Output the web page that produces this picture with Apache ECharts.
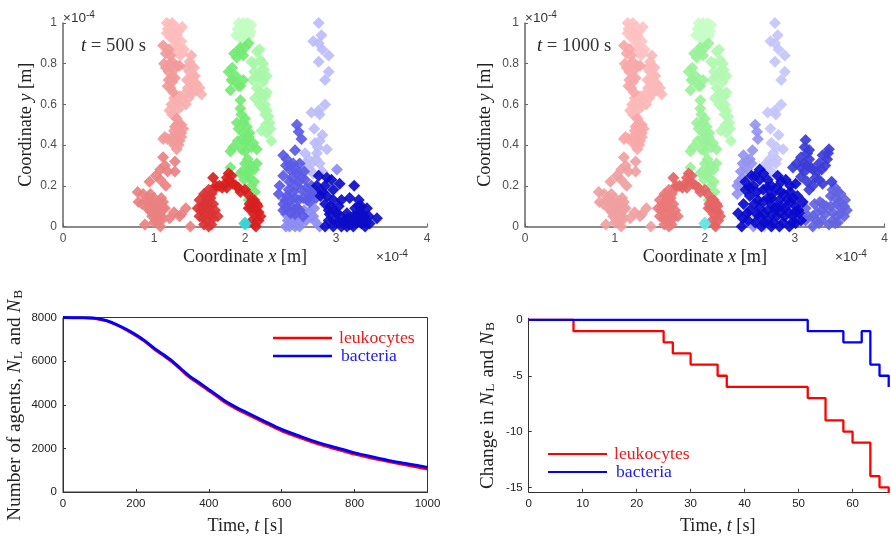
<!DOCTYPE html>
<html><head><meta charset="utf-8">
<style>html,body{margin:0;padding:0;background:#fff}#c{width:891px;height:537px}</style>
<script src="https://cdn.jsdelivr.net/npm/echarts@6/dist/echarts.min.js"></script>
</head><body><div id="c"></div>
<script>
// Scatter positions, x and y in units of 1e-4 m
const redTop=[[1.14,1],[1.2,1],[1.31,.98],[1.15,.97],[1.21,.95],[1.14,.95],[1.27,.96],[1.18,.93],[1.23,.92],[1.3,.91],[1.27,.88],[1.33,.87],[1.29,.84],[1.17,.99],[1.24,.98],[1.25,.94],[1.18,.96],[1.22,.89],[1.25,.86],[1.31,.85]];
const redPale=[[1.41,.84],[1.39,.81],[1.41,.79],[1.39,.76],[1.43,.74],[1.39,.72],[1.43,.71],[1.47,.7],[1.41,.69],[1.47,.67],[1.52,.65],[1.41,.65],[1.38,.63],[1.35,.6],[1.3,.59],[1.25,.63],[1.28,.64],[1.22,.63],[1.19,.6],[1.17,.57],[1.23,.54],[1.36,.78],[1.44,.78],[1.36,.72],[1.45,.74],[1.5,.68],[1.37,.68],[1.33,.65],[1.43,.67],[1.3,.62],[1.23,.6],[1.25,.57],[1.2,.55]];
const redMid=[[1.1,.89],[1.16,.87],[1.18,.84],[1.2,.81],[1.13,.78],[1.16,.76],[1.19,.73],[1.23,.73],[1.2,.71],[1.15,.69],[1.21,.66],[1.25,.79],[1.28,.79],[1.25,.53],[1.25,.5],[1.27,.48],[1.22,.47],[1.3,.46],[1.25,.45],[1.3,.44],[1.1,.43],[1.15,.43],[1.2,.42],[1.25,.42],[1.27,.4],[1.25,.38],[1.13,.85],[1.17,.8],[1.11,.8],[1.16,.72],[1.18,.68],[1.22,.77],[1.28,.5],[1.23,.49],[1.32,.48],[1.2,.44],[1.28,.42],[1.22,.4],[1.12,.44],[1.3,.5]];
const redLow=[[1.1,.34],[1.12,.3],[1.07,.28],[1.15,.27],[1.23,.32],[1.23,.27],[1.02,.25],[1.07,.23],[.95,.22],[1.13,.2],[.82,.17],[.88,.16],[.83,.12],[.87,.11],[.94,.14],[.96,.12],[.98,.1],[.93,.09],[.97,.07],[1.02,.09],[1.06,.12],[1.08,.14],[1.1,.12],[1.07,.09],[1.03,.06],[.98,.05],[1.05,.03],[1.07,0],[.9,.01],[1.17,.04],[1.22,.07],[1.28,.05],[1.3,.06],[1.35,.09],[1.4,0],[1,.11],[.92,.12],[.96,.16],[1,.14],[.95,.08],[1,.07],[1.02,.03],[1,.02],[1.06,.06],[1.08,.05],[1.1,.09],[1.12,.09],[1.08,.03]];
const redArchLeft=[[1.5,.13],[1.55,.16],[1.6,.18],[1.62,.14],[1.55,.11],[1.6,.1],[1.52,.08],[1.56,.06],[1.63,.07],[1.5,.05],[1.58,.03],[1.6,0],[1.55,.01],[1.65,.11],[1.7,.05],[1.65,.04],[1.58,.13],[1.57,.09],[1.53,.1],[1.62,.05],[1.57,.15],[1.6,.12],[1.67,.08],[1.63,.01],[1.54,.04],[1.48,.09],[1.63,.16],[1.66,.18]];
const redArchRight=[[1.65,.24],[1.75,.19],[1.68,.2],[1.78,.21],[1.82,.26],[1.83,.22],[1.87,.21],[1.9,.2],[1.95,.17],[2,.18],[2.05,.11],[2.1,.13],[2.13,.11],[2.07,.09],[2.12,.08],[2.17,.05],[2.1,.06],[2.15,.03],[2.12,0],[2.1,.01],[1.72,.2],[1.8,.24],[1.85,.25],[1.93,.19],[1.8,.19],[2.03,.16],[2.08,.13],[2.04,.09],[2.15,.07],[2.08,.03],[2.14,.1]];
const greenTop=[[1.93,1],[1.98,1],[2.03,1],[2.07,.99],[1.92,.97],[1.97,.96],[2.02,.96],[2.06,.96],[1.9,.94],[1.95,.93],[2,.93],[1.98,.91],[2,.99],[1.95,.98],[2.05,.94],[2.03,.93],[1.93,.95],[2,.96]];
const greenPale=[[2.16,.87],[2.07,.81],[2.2,.8],[2.21,.77],[2.13,.735],[2.2,.71],[2.13,.68],[2.22,.64],[2.11,.63],[2.16,.6],[2.24,.57],[2.22,.55],[2.27,.51],[2.18,.47],[2.29,.42],[2.24,.46],[2.1,.8],[2.16,.76],[2.08,.72],[2.17,.66],[2.13,.86],[2.17,.82],[2.24,.74],[2.1,.76],[2.18,.74],[2.24,.66],[2.18,.64],[2.2,.58],[2.26,.54],[2.23,.5],[2.28,.48],[2.22,.6]];
const greenMid=[[2.04,.9],[1.95,.88],[1.96,.86],[1.91,.83],[1.98,.84],[1.82,.76],[1.87,.72],[1.84,.67],[1.98,.72],[1.93,.69],[1.95,.62],[1.95,.58],[2,.53],[1.91,.51],[2.02,.49],[1.93,.48],[1.98,.46],[2.04,.44],[1.87,.39],[1.84,.37],[2,.41],[2.09,.41],[2.13,.38],[2,.37],[2,.31],[2.13,.31],[2.05,.28],[1.84,.29],[1.95,.26],[2.04,.245],[2.11,.17],[2.04,.13],[2.07,.2],[2.1,.28],[2,.88],[1.93,.86],[1.88,.85],[1.86,.78],[1.9,.74],[1.85,.72],[1.95,.69],[1.96,.55],[1.98,.51],[2.05,.46],[1.97,.43],[2.02,.42],[1.92,.42],[2.07,.39],[1.96,.38],[2.03,.33],[2.07,.3],[1.97,.27],[2.1,.22],[2.03,.26],[1.99,.23]];
const cyanPts=[[1.97,.015],[2,.015],[2.03,.015],[2,.03],[2,0]];

const bluePale500=[[2.81,1],[2.84,.94],[2.75,.91],[2.81,.9],[2.85,.87],[2.92,.84],[2.81,.81],[2.92,.76],[2.88,.72],[2.88,.6],[2.81,.57],[2.73,.56],[2.82,.55],[2.76,.48],[2.85,.45],[2.77,.41],[2.9,.38],[2.79,.36],[2.66,.36],[2.73,.31],[2.82,.31],[2.71,.28],[2.62,.27],[2.7,.33],[2.78,.33],[2.67,.31],[2.85,.27],[2.82,.42],[2.8,.39],[2.75,.26]];
const blueLight500=[[3.01,.28],[2.55,0],[2.6,.02],[2.52,.03],[2.45,.06],[2.67,.03],[2.76,.09],[2.82,0],[2.56,.05],[2.7,.07],[2.47,.03],[2.6,0],[2.75,.05],[2.49,0],[2.65,.08],[2.76,.03],[2.58,.09],[2.45,0]];
const blueMid500=[[2.57,.5],[2.59,.465],[2.62,.43],[2.55,.375],[2.42,.35],[2.46,.33],[2.53,.31],[2.6,.31],[2.49,.28],[2.57,.26],[2.42,.25],[2.38,.2],[2.37,.16],[2.49,.22],[2.59,.22],[2.66,.23],[2.73,.2],[2.62,.18],[2.53,.17],[2.46,.15],[2.68,.13],[2.59,.13],[2.42,.11],[2.51,.1],[2.42,.08],[2.6,.08],[2.5,.065],[2.45,.3],[2.5,.3],[2.56,.28],[2.65,.27],[2.52,.24],[2.62,.24],[2.56,.2],[2.68,.19],[2.48,.18],[2.44,.13],[2.5,.13],[2.55,.14],[2.64,.14],[2.57,.09],[2.46,.09],[2.55,.06],[2.64,.05],[2.75,.16],[2.71,.12],[2.78,.14],[2.8,.17],[2.7,.16]];
const blueDark500=[[2.81,.25],[2.9,.24],[2.95,.23],[3.04,.21],[3.2,.2],[2.79,.2],[2.88,.2],[2.97,.18],[3.15,.14],[2.97,.13],[3.06,.13],[3.25,.13],[3.28,.1],[3.34,.09],[3.21,.09],[2.92,.08],[3.01,.065],[3.12,.065],[3.19,.05],[3.28,.06],[3.36,.05],[3.45,.04],[3.37,.015],[3.28,.015],[3.19,0],[3.32,0],[2.88,0],[2.97,0],[3.06,0],[3.12,0],[2.92,.03],[3.03,.025],[3.1,.03],[3.25,.03],[2.85,.17],[2.9,.15],[2.83,.15],[2.94,.1],[2.98,.08],[2.88,.11],[2.93,.06],[3.03,.1],[2.98,.03],[3.05,.05],[3.08,.02],[3.15,.01],[3.22,.05],[3.23,.02],[3.3,.03],[3.27,.07],[3.31,.05],[3.33,.02],[3.13,.04],[3.18,.02],[3.25,.1]];

const bluePale1000=[[2.78,1],[2.81,.94],[2.73,.91],[2.78,.9],[2.82,.87],[2.89,.84],[2.78,.81],[2.89,.76],[2.85,.72],[2.85,.6],[2.78,.57],[2.7,.56],[2.79,.55],[2.73,.48],[2.82,.45],[2.74,.41],[2.87,.38],[2.76,.36],[2.72,.31],[2.79,.31],[2.68,.28],[2.5,.02],[2.66,0],[2.6,.06],[2.72,.33],[2.8,.33],[2.8,.39],[2.66,.3],[2.74,.27],[2.45,.05],[2.56,.04]];
const blueLight1000=[[2.56,.5],[2.58,.465],[2.59,.43],[2.53,.375],[2.43,.35],[2.47,.32],[2.52,.31],[2.36,.2],[2.36,.16],[2.4,.27],[2.54,0],[2.42,.24],[2.42,.31],[2.5,.33],[2.47,.28],[2.38,.22]];
const blueMid1000=[[3.45,.19],[3.51,.16],[3.4,.15],[3.56,.13],[3.47,.11],[3.58,.08],[3.51,.065],[3.4,.1],[3.31,.11],[3.22,.11],[3.25,.07],[3.34,.06],[3.2,.05],[3.27,.016],[3.45,.016],[3.2,0],[3.12,.09],[3.55,.05],[3.38,.01],[3.47,.05],[3.5,.12],[3.45,.14],[3.42,.07],[3.35,.1],[3.28,.12],[3.52,.09],[3.48,.02],[3.3,.03],[3.24,.03],[3.15,.05],[3.12,.03],[3.42,.03],[3.55,.1],[3.42,.18],[3.48,.17],[3.3,.08]];
const blueStrong1000=[[3.12,.425],[3.11,.39],[3.16,.376],[3.07,.34],[3.16,.33],[2.98,.29],[3.07,.29],[3.18,.29],[3.11,.27],[3.38,.38],[3.31,.35],[3.36,.33],[3.27,.31],[3.25,.27],[3.23,.24],[3.41,.22],[3.31,.21],[3.14,.22],[3.07,.245],[3.14,.36],[3.1,.31],[3.13,.3],[3.02,.31],[3.34,.3],[3.3,.28],[3.2,.28],[3.37,.36],[3.27,.23],[3.2,.2],[3.16,.18]];
const blueDark1000=[[2.61,.28],[2.52,.25],[2.45,.22],[2.61,.23],[2.7,.23],[2.81,.25],[2.9,.23],[3.01,.21],[2.45,.18],[2.54,.2],[2.65,.18],[2.8,.19],[2.95,.17],[3.03,.15],[2.5,.15],[2.59,.13],[2.7,.14],[2.83,.13],[2.95,.12],[3.09,.12],[2.43,.11],[2.37,.065],[2.47,.065],[2.61,.09],[2.7,.08],[2.8,.09],[2.89,.09],[3.01,.1],[2.41,0],[2.61,.05],[2.7,.03],[2.8,.05],[2.89,.05],[2.98,.05],[3.05,.065],[2.63,0],[2.74,0],[2.83,0],[2.94,0],[3.01,.016],[3.07,.03],[2.56,.25],[2.65,.26],[2.74,.2],[2.85,.22],[2.95,.2],[2.5,.19],[2.58,.17],[2.69,.19],[2.75,.16],[2.88,.16],[2.98,.14],[2.55,.11],[2.65,.12],[2.74,.11],[2.85,.1],[2.92,.13],[3.04,.08],[2.5,.08],[2.58,.06],[2.66,.06],[2.75,.06],[2.84,.07],[2.93,.07],[3,.07],[2.56,.02],[2.66,.02],[2.76,.02],[2.87,.02],[2.97,.02],[2.42,.04],[2.48,.03],[2.74,.14],[2.84,.17],[2.78,.09]];

// Agent counts
const timeLong=[0,50,80,100,120,150,175,200,225,250,275,300,325,350,375,400,425,450,475,500,550,600,650,700,750,800,850,900,950,1000];
const leukocytesLong=[7990,7980,7965,7915,7840,7630,7420,7170,6890,6550,6260,5950,5580,5220,4940,4640,4350,4050,3820,3610,3200,2800,2490,2200,1960,1730,1540,1370,1210,1050];
const bacteriaLong=[8000,7995,7985,7935,7860,7660,7450,7210,6930,6600,6310,6000,5630,5280,5000,4700,4410,4120,3890,3680,3270,2870,2560,2270,2030,1800,1610,1430,1280,1130];
// Early changes
const leukocyteSteps=[[0,0],[8.3,-1],[25,-2],[26.7,-3],[30,-4],[35,-5],[36.7,-6],[51.7,-7],[55,-9],[58.3,-10],[60,-11],[63.3,-14],[65,-15],[66.7,-16]];
const bacteriaSteps=[[0,0],[51.7,-1],[58.3,-2],[61.7,-1],[63.3,-4],[65,-5],[66.7,-6]];

const shortTicks=[0,10,20,30,40,50,60], changeTicks=[0,-5,-10,-15];
const SERIF='"Liberation Serif","DejaVu Serif",serif', SANS='"Liberation Sans",Arial,sans-serif';
const richFor=(fs)=>({
  i:{fontFamily:SERIF,fontStyle:'italic',fontSize:fs,color:'#222'},
  b:{fontFamily:SERIF,fontSize:fs*.7,color:'#222',verticalAlign:'bottom',padding:[6,1,0,1]}
});
const nameStyle=(fs,extra)=>Object.assign({fontFamily:SERIF,fontSize:fs,color:'#222',rich:richFor(fs)},extra||{});
const grids=[
 {left:63,top:23,width:364,height:203.5},
 {left:525,top:23,width:363,height:203.5},
 {left:63,top:317.5,width:364.5,height:174.5,show:true,borderColor:'#333',borderWidth:1},
 {left:528.7,top:318.3,width:360,height:173.5}
];
function axis(i,o){
  const top=i<2, col=top?'#666':'#333', txt=top?'#4d4d4d':'#222';
  return Object.assign({gridIndex:i,type:'value',splitLine:{show:false},nameLocation:'middle',
    axisLine:{show:true,onZero:false,lineStyle:{color:col,width:top?1.5:1}},
    axisTick:{show:true,inside:true,length:3,lineStyle:{color:col}},
    axisLabel:{fontFamily:SANS,fontSize:top?12:11.5,color:txt,margin:6,hideOverlap:false,formatter:(v)=>String(v)},
    nameTextStyle:nameStyle(18.2)},o);
}
const xAxis=[
 axis(0,{min:0,max:4,interval:1,name:'Coordinate {i|x} [m]',nameGap:22}),
 axis(1,{min:0,max:4,interval:1,name:'Coordinate {i|x} [m]',nameGap:22}),
 axis(2,{min:0,max:1000,interval:200,name:'Time, {i|t} [s]',nameGap:25}),
 axis(3,{min:0,max:66.7,name:'Time, {i|t} [s]',nameGap:25,nameTextStyle:nameStyle(18.2,{padding:[0,0,0,18]})}),
];
xAxis[3].axisTick.customValues=shortTicks; xAxis[3].axisLabel.customValues=shortTicks;
const yAxis=[
 axis(0,{min:0,max:1,interval:.2,name:'Coordinate {i|y} [m]',nameGap:28}),
 axis(1,{min:0,max:1,interval:.2,name:'Coordinate {i|y} [m]',nameGap:31}),
 axis(2,{min:0,max:8000,interval:2000,name:'Number of agents, {i|N}{b|L} and {i|N}{b|B}',nameGap:38,nameTextStyle:nameStyle(19.3)}),
 axis(3,{min:-15.4,max:.15,name:'Change in {i|N}{b|L} and {i|N}{b|B}',nameGap:31,nameTextStyle:nameStyle(19.3)}),
];
yAxis[3].axisTick.customValues=changeTicks; yAxis[3].axisLabel.customValues=changeTicks;

const dots=(i,data,color,size)=>({type:'scatter',xAxisIndex:i,yAxisIndex:i,data,symbol:'diamond',symbolSize:size||12,
  itemStyle:{color,opacity:.92},silent:true,animation:false});
const line=(i,name,data,color,w,extra)=>Object.assign({type:'line',name,xAxisIndex:i,yAxisIndex:i,data,showSymbol:false,symbol:'none',
  lineStyle:{color,width:w},itemStyle:{color},animation:false},extra||{});
const zip=(a,b)=>a.map((v,k)=>[v,b[k]]);
const series=[
 dots(0,redTop,'#ffbcbc'),dots(0,redPale,'#f9b0b0'),dots(0,redMid,'#f29a9a'),dots(0,redLow,'#e98181'),
 dots(0,greenTop,'#c2fdc2'),dots(0,greenPale,'#a8f7a8'),dots(0,greenMid,'#74ea74'),
 dots(0,redArchLeft,'#db3434'),dots(0,redArchRight,'#d81f1f'),dots(0,cyanPts,'#33d6d6',8),
 dots(0,bluePale500,'#bcbcfb'),dots(0,blueLight500,'#8c8cf2'),dots(0,blueMid500,'#5a5ae6'),dots(0,blueDark500,'#0c0cc8'),
 dots(1,redTop,'#ffc2c2'),dots(1,redPale,'#fbb8b8'),dots(1,redMid,'#f7a8a8'),dots(1,redLow,'#f0a0a0'),
 dots(1,greenTop,'#c8fdc8'),dots(1,greenPale,'#b2f9b2'),dots(1,greenMid,'#98f298'),
 dots(1,redArchLeft,'#e97a7a'),dots(1,redArchRight,'#e56464'),dots(1,cyanPts,'#66e6e6',8),
 dots(1,bluePale1000,'#c4c4fc'),dots(1,blueLight1000,'#9494f0'),dots(1,blueMid1000,'#6464e2'),dots(1,blueStrong1000,'#3c3cd8'),dots(1,blueDark1000,'#0a0acc'),
 line(2,'leukocytes',zip(timeLong,leukocytesLong),'#ff0000',2.8,{smooth:.3}),
 line(2,'bacteria',zip(timeLong,bacteriaLong),'#0000ff',2.8,{smooth:.3}),
 line(3,'leukocytes',leukocyteSteps,'#ff0000',2.3,{step:'end'}),
 line(3,'bacteria',bacteriaSteps,'#0000ff',2.3,{step:'end'}),
];
const legendOf=(left,top,w)=>({left,top,orient:'vertical',itemWidth:59,itemHeight:10,itemGap:0,padding:0,
  icon:'path://M0 '+(5-w/2)+'H59V'+(5+w/2)+'H0Z',
  data:[{name:'leukocytes',textStyle:{color:'#f01818',padding:[0,0,0,2]}},{name:'bacteria',textStyle:{color:'#2020f0',padding:[0,0,0,4]}}],
  textStyle:{fontFamily:SERIF,fontSize:17.7},selectedMode:false});
const expRich={s:{fontFamily:SANS,fontSize:10,color:'#333',verticalAlign:'top',padding:[0,0,6,0]}};
const note=(text,left,top,fs,fam)=>({text,left,top,padding:0,textStyle:{fontFamily:fam,fontSize:fs,fontWeight:'normal',color:'#333',rich:Object.assign({i:{fontFamily:SERIF,fontStyle:'italic',fontSize:fs,color:'#222'}},expRich)}});
const chart=echarts.init(document.getElementById('c'),null,{renderer:'canvas'});
chart.setOption({animation:false,backgroundColor:'#fff',
 grid:grids,xAxis,yAxis,series,
 legend:[legendOf(273,329,2.6),legendOf(548,445,2.2)],
 title:[
  note('{i|t} = 500 s',81,37,18.7,SERIF),
  note('{i|t} = 1000 s',537,37,18.7,SERIF),
  note('×10{s|-4}',63,10,13.5,SANS),
  note('×10{s|-4}',525,10,13.5,SANS),
  note('×10{s|-4}',376,249,13.5,SANS),
  note('×10{s|-4}',835,249,13.5,SANS)
 ]
});
</script></body></html>
